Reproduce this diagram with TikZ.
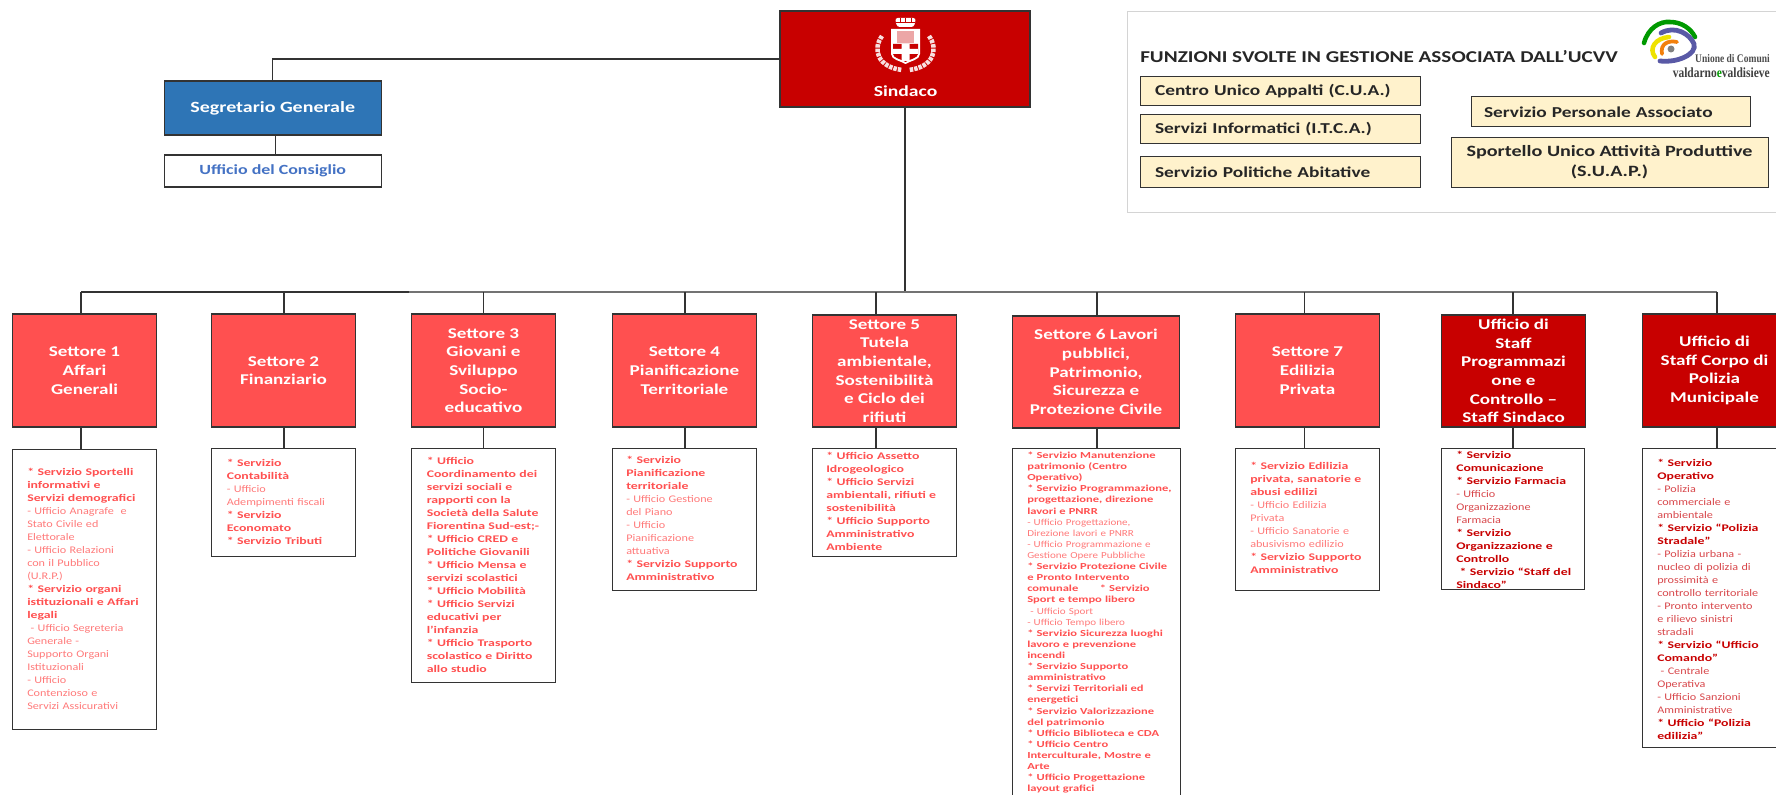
\documentclass[tikz,border=0pt]{standalone}
\usepackage{fontspec}
\usepackage{xcolor}
\usetikzlibrary{calc}
\newfontfamily\headfont{Carlito}[FakeStretch=1.28]
\newfontfamily\listfont{Carlito}[FakeStretch=1.2, BoldFeatures={FakeStretch=1.36}]
\newfontfamily\logofont{Liberation Serif}[FakeStretch=0.82]

\definecolor{redsind}{HTML}{C80000}
\definecolor{redsett}{HTML}{FF5050}
\definecolor{bluesegr}{HTML}{2E75B6}
\definecolor{bluecons}{HTML}{4472C4}
\definecolor{creamgest}{HTML}{FFF2CC}
\definecolor{linedark}{HTML}{333333}
\definecolor{svpale}{HTML}{FF7A7A}
\definecolor{svdark}{HTML}{D8474B}

\newcommand{\sv}[1]{{\bfseries\color{redsett}#1}}
\newcommand{\uf}[1]{{\color{svpale}#1}}
\newcommand{\dsv}[1]{{\bfseries\color{redsind}#1}}
\newcommand{\duf}[1]{{\color{svdark}#1}}

\tikzset{
	headbox/.style = {draw = linedark, line width = 0.85pt, inner sep = 0pt, align = center,
		text = white, font = \headfont\bfseries\fontsize{11.2}{14}\selectfont,
		minimum width = 107.6pt, minimum height = 84.75pt},
	sector/.style = {headbox, fill = redsett},
	staff/.style = {headbox, fill = redsind},
	listbox/.style = {draw = linedark, line width = 0.9pt, fill = white, anchor = north,
		minimum width = 107.6pt},
	listtext/.style = {anchor = north west, inner sep = 0pt, text width = 104pt, align = left,
		font = \listfont\fontsize{7.6}{9.75}\selectfont, execute at begin node = \strut},
	gestbox/.style = {draw = linedark, line width = 0.75pt, fill = creamgest, inner sep = 0pt,
		font = \headfont\bfseries\fontsize{11.35}{14}\selectfont, text = black!85},
	conn/.style = {draw = linedark, line width = 0.95pt}
}

\begin{document}
\begin{tikzpicture}[x = 0.75pt, y = -0.75pt]
	\useasboundingbox (0,0) rectangle (1776,795);

	% top of the chart
	\node (sindaco) [headbox, fill = redsind, minimum width = 187.5pt, minimum height = 72pt] at (905,59) {};
	\node (sindacotxt) at (905.5,91) [inner sep = 0pt, text = white,
		font = \headfont\bfseries\fontsize{11.5}{14}\selectfont] {Sindaco};
	\node (segretario) [headbox, fill = bluesegr, minimum width = 162.5pt, minimum height = 40.5pt,
		font = \headfont\bfseries\fontsize{11.7}{14}\selectfont] at (272.75,108) {Segretario Generale};
	\node (consiglio) [headbox, fill = white, text = bluecons, minimum width = 162.5pt,
		minimum height = 24pt, font = \headfont\bfseries\fontsize{10.5}{14}\selectfont] at (272.75,171) {Ufficio del Consiglio};

	% coat of arms
	\fill [white, rounded corners = 2pt] (895,18) -- (916,18) -- (914,27) -- (897,27) -- cycle;
	\draw [redsind, line width = 0.5pt] (896,22) -- (915,22) (900,18) -- (900,22) (905.5,18) -- (905.5,22) (911,18) -- (911,22);
	\fill [white] (891,29) -- (920,29) -- (920,54) .. controls (920,60) and (910,61) .. (905.5,64)
		.. controls (901,61) and (891,60) .. (891,54) -- cycle;
	\fill [redsind!35] (897,31) -- (914,31) -- (914,43) -- (897,43) -- cycle;
	\fill [redsind] (893,44) -- (918,44) -- (918,54) .. controls (918,58) and (910,59) .. (905.5,62)
		.. controls (901,59) and (893,58) .. (893,54) -- cycle;
	\fill [white] (901.5,44) rectangle (909.5,61) (893,49) rectangle (918,54);
	\draw [white!88!redsind, line width = 3.4pt, dash pattern = on 2.6pt off 0.8pt]
		(882,36) .. controls (872,50) and (878,67) .. (902,70);
	\draw [white!88!redsind, line width = 3.4pt, dash pattern = on 2.6pt off 0.8pt]
		(929,36) .. controls (939,50) and (933,67) .. (909,70);

	% panel of the associated functions
	\node (panel) at (1127,11) [anchor = north west, draw = black!17, line width = 1pt,
		minimum width = 490pt, minimum height = 150.75pt] {};
	\node (paneltitle) at (1140,57) [anchor = west, inner sep = 0pt, text = black!85,
		font = \headfont\bfseries\fontsize{12.4}{14}\selectfont]
		{FUNZIONI SVOLTE IN GESTIONE ASSOCIATA DALL’UCVV};
	\node (cua) [gestbox, minimum width = 210pt, minimum height = 21.75pt, text width = 187.5pt, align = left]
		at (1280,91.5) {Centro Unico Appalti (C.U.A.)};
	\node (itca) [gestbox, minimum width = 210pt, minimum height = 21.75pt, text width = 187.5pt, align = left]
		at (1280,129.5) {Servizi Informatici (I.T.C.A.)};
	\node (abit) [gestbox, minimum width = 210pt, minimum height = 22.5pt, text width = 187.5pt, align = left]
		at (1280,172) {Servizio Politiche Abitative};
	\node (pers) [gestbox, minimum width = 209.25pt, minimum height = 22.5pt, text width = 189.75pt, align = left]
		at (1610.5,112) {Servizio Personale Associato};
	\node (suap) [gestbox, minimum width = 237.75pt, minimum height = 36.75pt, align = center,
		font = \headfont\bfseries\fontsize{11.8}{15}\selectfont]
		at (1609.5,162.5) {Sportello Unico Attività Produttive\\(S.U.A.P.)};

	% logo of the union
	\begin{scope}[line cap = round, fill = none]
		\draw [green!60!black, line width = 3.4pt] (1644,43) .. controls (1648,28) and (1660,21) .. (1670,22)
			.. controls (1682,22) and (1691,29) .. (1695,37);
		\draw [blue!30!gray, line width = 3.6pt] (1661,33) .. controls (1675,25) and (1690,34) .. (1694,44)
			.. controls (1697,54) and (1678,63) .. (1660,61);
		\draw [yellow!85!olive, line width = 3.4pt] (1655,57) .. controls (1648,48) and (1656,38) .. (1669,37);
		\draw [orange!80!brown, line width = 2.8pt] (1662,54) .. controls (1660,44) and (1668,40) .. (1677,42);
		\fill [gray] (1671,49) circle (3.5);
	\end{scope}
	\node (logotop) at (1770,59) [anchor = east, inner sep = 0pt, text = black!70,
		font = \logofont\bfseries\fontsize{8.7}{10}\selectfont] {Unione di Comuni};
	\node (logobot) at (1770,73) [anchor = east, inner sep = 0pt, text = black!75,
		font = \logofont\bfseries\fontsize{10.5}{11}\selectfont] {valdarno{\color{green!60!black}e}valdisieve};

	% sectors
	\node (s1) [sector] at (84.5,370.5) {Settore 1\\Affari\\Generali};
	\node (s2) [sector] at (283.5,370.5) {Settore 2\\Finanziario};
	\node (s3) [sector] at (483.5,370.5) {Settore 3\\Giovani e\\Sviluppo\\Socio-\\educativo};
	\node (s4) [sector] at (684.5,370.5) {Settore 4\\Pianificazione\\Territoriale};
	\node (s5) [sector, minimum height = 84pt] at (884.5,371) {Settore 5\\Tutela\\ambientale,\\Sostenibilità\\e Ciclo dei\\rifiuti};
	\node (s6) [sector, minimum width = 125pt, minimum height = 84pt] at (1096,372) {Settore 6 Lavori\\pubblici,\\Patrimonio,\\Sicurezza e\\Protezione Civile};
	\node (s7) [sector] at (1307.5,370.5) {Settore 7\\Edilizia\\Privata};
	\node (s8) [staff, minimum height = 84pt] at (1513.5,371) {Ufficio di\\Staff\\Programmazi\\one e\\Controllo –\\Staff Sindaco};
	\node (s9) [staff] at (1714.5,370.5) {Ufficio di\\Staff Corpo di\\Polizia\\Municipale};

	% boxes under the sectors
	\node (l1) [listbox, minimum height = 210pt] at (84.5,449) {};
	\node (l2) [listbox, minimum height = 81pt] at (283.5,448) {};
	\node (l3) [listbox, minimum height = 175.5pt] at (483.5,448) {};
	\node (l4) [listbox, minimum height = 106.5pt] at (684.5,448) {};
	\node (l5) [listbox, minimum height = 81pt] at (884.5,448) {};
	\node (l6) [listbox, minimum width = 126pt, minimum height = 262.5pt] at (1096.5,448) {};
	\node (l7) [listbox, minimum height = 106.5pt] at (1307.5,448) {};
	\node (l8) [listbox, minimum height = 105.75pt] at (1513,448) {};
	\node (l9) [listbox, minimum height = 224.25pt] at (1714.5,448) {};

	\node (t1) [listtext] at (27,466.5) {\sv{* Servizio Sportelli\\informativi e\\Servizi demografici}\\\uf{- Ufficio Anagrafe \ e\\Stato Civile ed\\Elettorale\\- Ufficio Relazioni\\con il Pubblico\\(U.R.P.)}\\\sv{* Servizio organi\\istituzionali e Affari\\legali}\\\uf{~- Ufficio Segreteria\\Generale -\\Supporto Organi\\Istituzionali\\- Ufficio\\Contenzioso e\\Servizi Assicurativi}};
	\node (t2) [listtext] at (226.5,457.5) {\sv{* Servizio\\Contabilità}\\\uf{- Ufficio\\Adempimenti fiscali}\\\sv{* Servizio\\Economato\\{}* Servizio Tributi}};
	\node (t3) [listtext] at (426.5,455) {\sv{* Ufficio\\Coordinamento dei\\servizi sociali e\\rapporti con la\\Società della Salute\\Fiorentina Sud-est;-\\{}* Ufficio CRED e\\Politiche Giovanili\\{}* Ufficio Mensa e\\servizi scolastici\\{}* Ufficio Mobilità\\{}* Ufficio Servizi\\educativi per\\l’infanzia\\{}* Ufficio Trasporto\\scolastico e Diritto\\allo studio}};
	\node (t4) [listtext] at (626,454) {\sv{* Servizio\\Pianificazione\\territoriale}\\\uf{- Ufficio Gestione\\del Piano\\- Ufficio\\Pianificazione\\attuativa}\\\sv{* Servizio Supporto\\Amministrativo}};
	\node (t5) [listtext] at (826,450.5) {\sv{* Ufficio Assetto\\Idrogeologico\\{}* Ufficio Servizi\\ambientali, rifiuti e\\sostenibilità\\{}* Ufficio Supporto\\Amministrativo\\Ambiente}};
	\node (t6) [listtext, text width = 122pt, font = \listfont\fontsize{6.9}{8.33}\selectfont] at (1027,450.5) {\sv{* Servizio Manutenzione\\patrimonio (Centro\\Operativo)\\{}* Servizio Programmazione,\\progettazione, direzione\\lavori e PNRR}\\\uf{- Ufficio Progettazione,\\Direzione lavori e PNRR\\- Ufficio Programmazione e\\Gestione Opere Pubbliche}\\\sv{* Servizio Protezione Civile\\e Pronto Intervento\\comunale \qquad * Servizio\\Sport e tempo libero}\\\uf{~- Ufficio Sport\\- Ufficio Tempo libero}\\\sv{* Servizio Sicurezza luoghi\\lavoro e prevenzione\\incendi\\{}* Servizio Supporto\\amministrativo\\{}* Servizi Territoriali ed\\energetici\\{}* Servizio Valorizzazione\\del patrimonio\\{}* Ufficio Biblioteca e CDA\\{}* Ufficio Centro\\Interculturale, Mostre e\\Arte\\{}* Ufficio Progettazione\\layout grafici}};
	\node (t7) [listtext] at (1250,460.5) {\sv{* Servizio Edilizia\\privata, sanatorie e\\abusi edilizi}\\\uf{- Ufficio Edilizia\\Privata\\- Ufficio Sanatorie e\\abusivismo edilizio}\\\sv{* Servizio Supporto\\Amministrativo}};
	\node (t8) [listtext] at (1456,449.5) {\dsv{* Servizio\\Comunicazione\\{}* Servizio Farmacia}\\\duf{- Ufficio\\Organizzazione\\Farmacia}\\\dsv{* Servizio\\Organizzazione e\\Controllo\\~* Servizio “Staff del\\Sindaco”}};
	\node (t9) [listtext, text width = 88pt] at (1657,457.5) {\dsv{* Servizio\\Operativo}\\\duf{- Polizia\\commerciale e\\ambientale}\\\dsv{* Servizio “Polizia\\Stradale”}\\\duf{- Polizia urbana -\\nucleo di polizia di\\prossimità e\\controllo territoriale\\- Pronto intervento\\e rilievo sinistri\\stradali}\\\dsv{* Servizio “Ufficio\\Comando”}\\\duf{~- Centrale\\Operativa\\- Ufficio Sanzioni\\Amministrative}\\\dsv{* Ufficio “Polizia\\edilizia”}};

	% connectors
	\coordinate (busleft) at (81,292);
	\coordinate (busmid) at (409,292);
	\coordinate (busright) at (1717,292);
	\coordinate (d0) at (275.5,145);
	\coordinate (d1) at (81,292);
	\coordinate (d2) at (284,292);
	\coordinate (d3) at (483.5,292);
	\coordinate (d4) at (685,292);
	\coordinate (d5) at (876,292);
	\coordinate (d6) at (1097,292);
	\coordinate (d7) at (1304.6,292);
	\coordinate (d8) at (1513,292);
	\coordinate (d9) at (1717,292);

	\draw [conn] (sindaco.west) -| (segretario.north);
	\draw [conn] (d0 |- segretario.south) -- (d0 |- consiglio.north);
	\draw [conn] (sindaco.south) -- (sindaco.south |- busleft);
	\draw [conn] (busleft) -- (busmid);
	\draw [conn, draw = black!55, line width = 1.3pt] (busmid) -- (busright);

	\draw [conn] (d1) -- (d1 |- s1.north) (d1 |- s1.south) -- (d1 |- l1.north);
	\draw [conn] (d2) -- (d2 |- s2.north) (d2 |- s2.south) -- (d2 |- l2.north);
	\draw [conn] (d3) -- (d3 |- s3.north) (d3 |- s3.south) -- (d3 |- l3.north);
	\draw [conn] (d4) -- (d4 |- s4.north) (d4 |- s4.south) -- (d4 |- l4.north);
	\draw [conn] (d5) -- (d5 |- s5.north) (d5 |- s5.south) -- (d5 |- l5.north);
	\draw [conn] (d6) -- (d6 |- s6.north) (d6 |- s6.south) -- (d6 |- l6.north);
	\draw [conn] (d7) -- (d7 |- s7.north) (d7 |- s7.south) -- (d7 |- l7.north);
	\draw [conn] (d8) -- (d8 |- s8.north) (d8 |- s8.south) -- (d8 |- l8.north);
	\draw [conn] (d9) -- (d9 |- s9.north) (d9 |- s9.south) -- (d9 |- l9.north);
\end{tikzpicture}
\end{document}
